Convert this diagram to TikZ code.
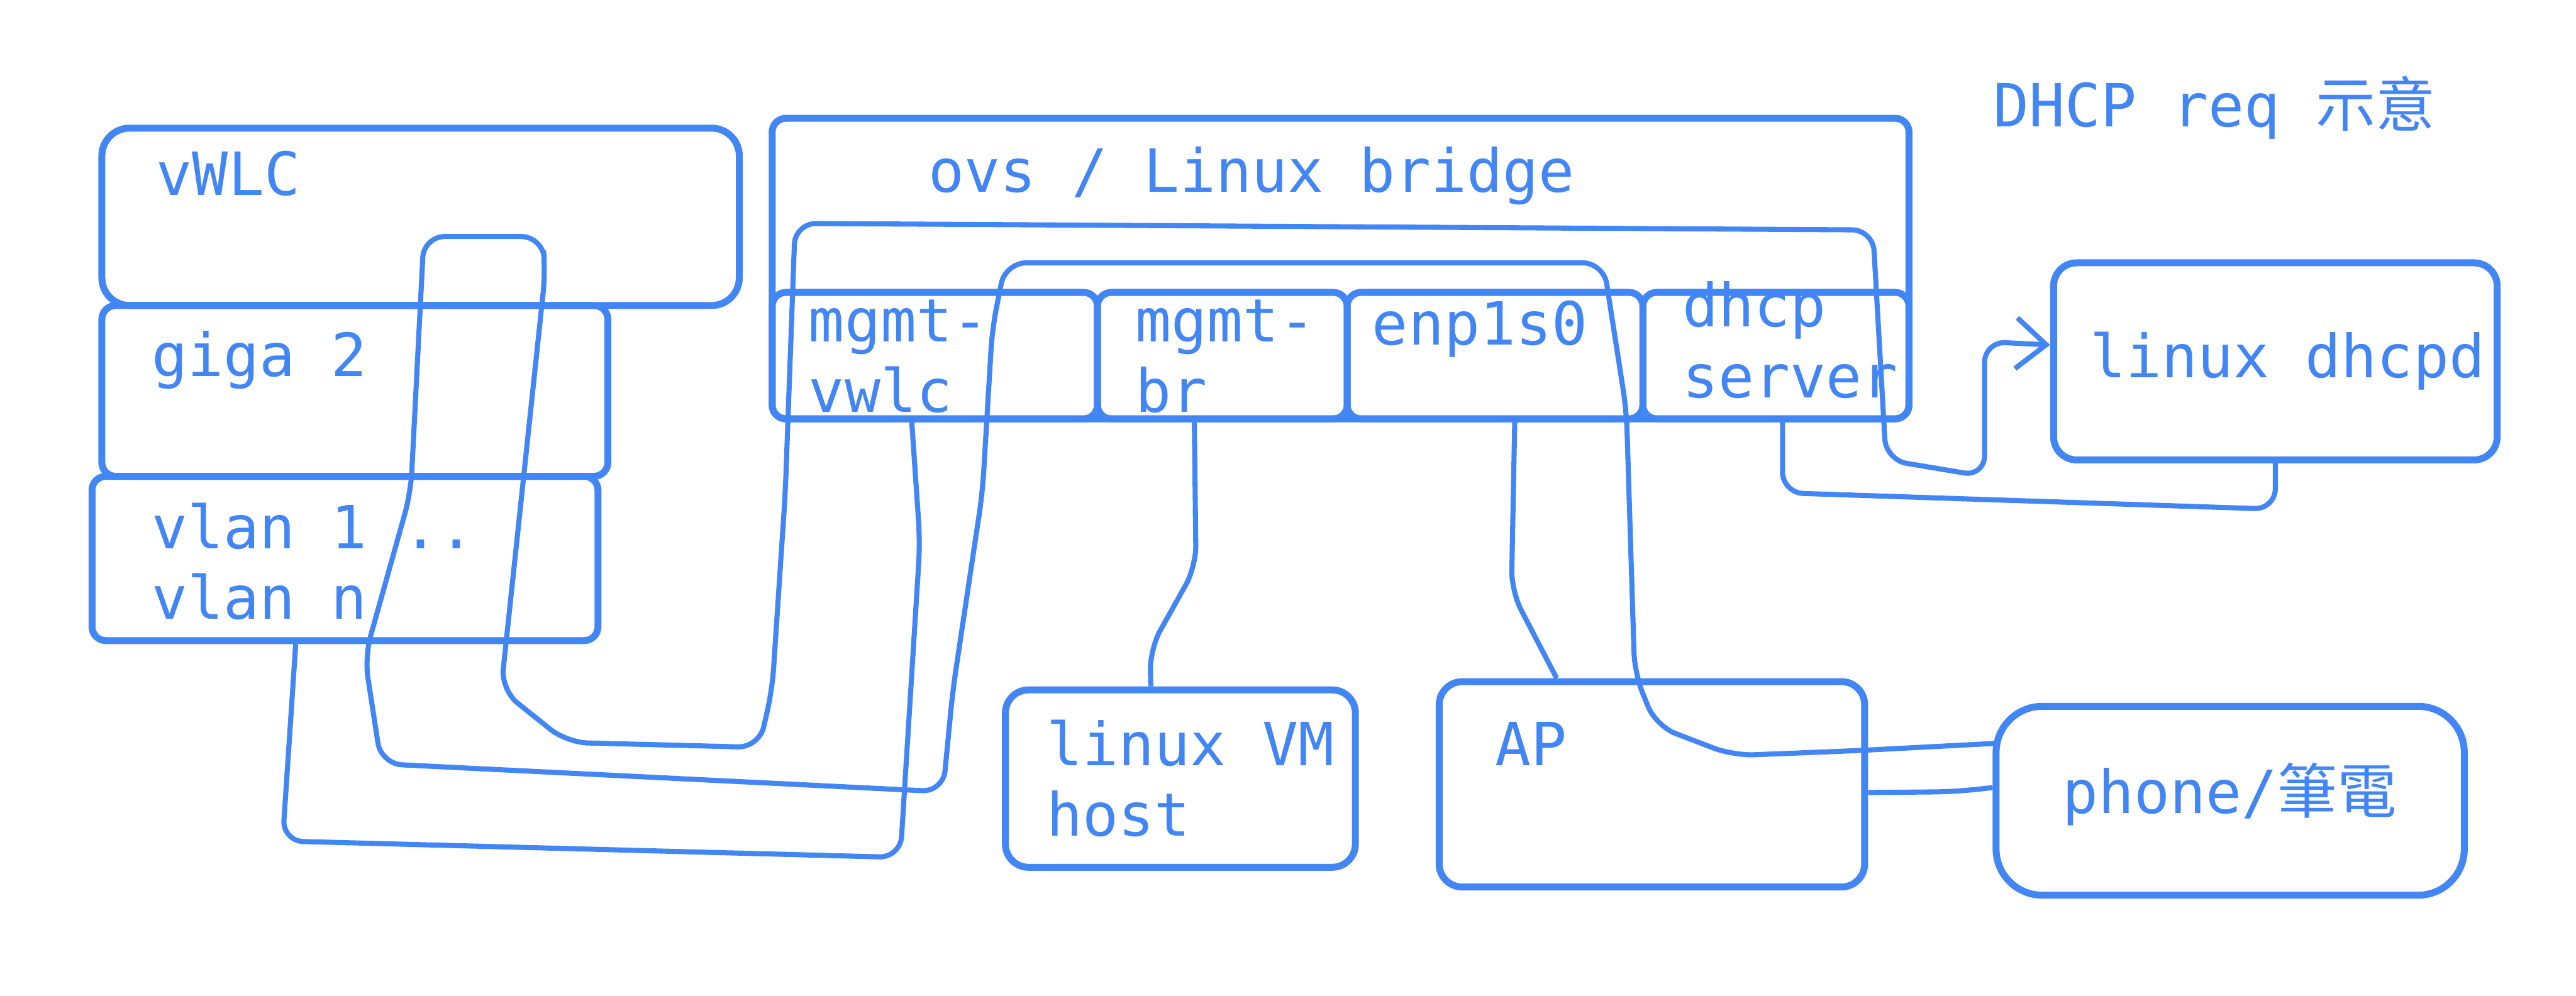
\documentclass[tikz,border=0pt]{standalone}
\usepackage{fontspec}
\usepackage{tikz}
\usetikzlibrary{arrows.meta,positioning,fit,calc}
\newfontfamily\skfont{DejaVu Sans Mono}
\newfontfamily\cjk{Noto Sans CJK TC}
\definecolor{penblue}{HTML}{4285F4}
\tikzset{
  box/.style={draw=penblue,line width=3pt,rounded corners=#1,inner sep=0pt},
  box/.default={6pt},
  wire/.style={draw=penblue,line width=2.2pt,rounded corners=9pt},
  txt/.style={text=penblue,font=\fontsize{25.8}{30.6}\selectfont\skfont,
    anchor=base west,align=left,inner sep=0pt},
}

\begin{document}
\begin{tikzpicture}[x=0.025cm,y=-0.025cm]
  \useasboundingbox (0,0) rectangle (1568,606);
  % left stack
  \node[box=12pt,fit={(62,78) (450,186)}] (vwlc) {};
  \node[box,fit={(62,186) (370,290)}] (giga) {};
  \node[box,fit={(56,290) (364,390)}] (vlan) {};
  % bridge and its ports
  \node[box,fit={(470,72) (1162,255)}] (ovs) {};
  \node[box,fit={(470,178) (668,255)}] (mgmtvwlc) {};
  \node[box,fit={(668,178) (820,255)}] (mgmtbr) {};
  \node[box,fit={(820,178) (1000,255)}] (enp) {};
  \node[box,fit={(1000,178) (1162,255)}] (dhcpsrv) {};
  % hosts
  \node[box=10pt,fit={(1250,160) (1520,280)}] (dhcpd) {};
  \node[box=10pt,fit={(612,420) (825,528)}] (linuxvm) {};
  \node[box=10pt,fit={(876,415) (1135,540)}] (ap) {};
  \node[box=20pt,fit={(1215,430) (1500,545)}] (phone) {};

  % labels (base = last line)
  \node[txt] (title) at (1213,77) {DHCP req {\cjk 示意}};
  \node[txt] (vwlc-t) at (95,119) {vWLC};
  \node[txt] (giga-t) at (92,229) {giga 2};
  \node[txt] (vlan-t) at (92,377) {vlan 1 ..\\vlan n};
  \node[txt] (ovs-t) at (565,117) {ovs / Linux bridge};
  \node[txt] (mgmtvwlc-t) at (492,251) {mgmt-\\vwlc};
  \node[txt] (mgmtbr-t) at (691,251) {mgmt-\\br};
  \node[txt] (enp-t) at (835,210) {enp1s0};
  \node[txt] (dhcpsrv-t) at (1024,242) {dhcp\\server};
  \node[txt] (dhcpd-t) at (1272,230) {linux dhcpd};
  \node[txt] (linuxvm-t) at (637,509) {linux VM\\host};
  \node[txt] (ap-t) at (910,466) {AP};
  \node[txt] (phone-t) at (1255,495) {phone/{\cjk 筆電}};

  % request path: phone -> vWLC -> linux dhcpd
  \draw[wire,-{Straight Barb[length=13pt,width=22pt]}] ($(phone.west)+(3,-35)$)
    -- (1130,457) -- (1055,460) -- (1008,442) -- (995,410) -- (990,250)
    -- (976,160) -- (612,160) -- (604,200) -- (598,300) -- (580,420)
    -- (574,482) -- (232,465) -- (222,400) -- (250,300) -- (258,144)
    -- (330,144) -- (332,165) -- (305,420) -- (345,452) -- (462,455)
    -- (470,420) -- (478,300) -- (484,136) -- (1140,140) -- (1148,280)
    -- (1208,290) -- (1208,208) -- ($(dhcpd.west)+(0,-10)$);
  % links
  \draw[wire] ($(vlan.south)+(-30,0)$) -- (172,512) -- (548,522)
    -- (560,330) -- ($(mgmtvwlc.south)+(-14,0)$);
  \draw[wire] ($(mgmtbr.south)+(-17,0)$) -- (728,345) -- (700,395)
    -- ($(linuxvm.north)+(-18,0)$);
  \draw[wire] ($(enp.south)+(12,0)$) -- (920,360) -- ($(ap.north)+(-58,0)$);
  \draw[wire] ($(dhcpsrv.south)+(4,0)$) -- (1085,300) -- (1385,310)
    -- (dhcpd.south);
  \draw[wire] ($(ap.east)+(0,5)$) -- (1190,482) -- ($(phone.west)+(0,-8)$);
\end{tikzpicture}
\end{document}
